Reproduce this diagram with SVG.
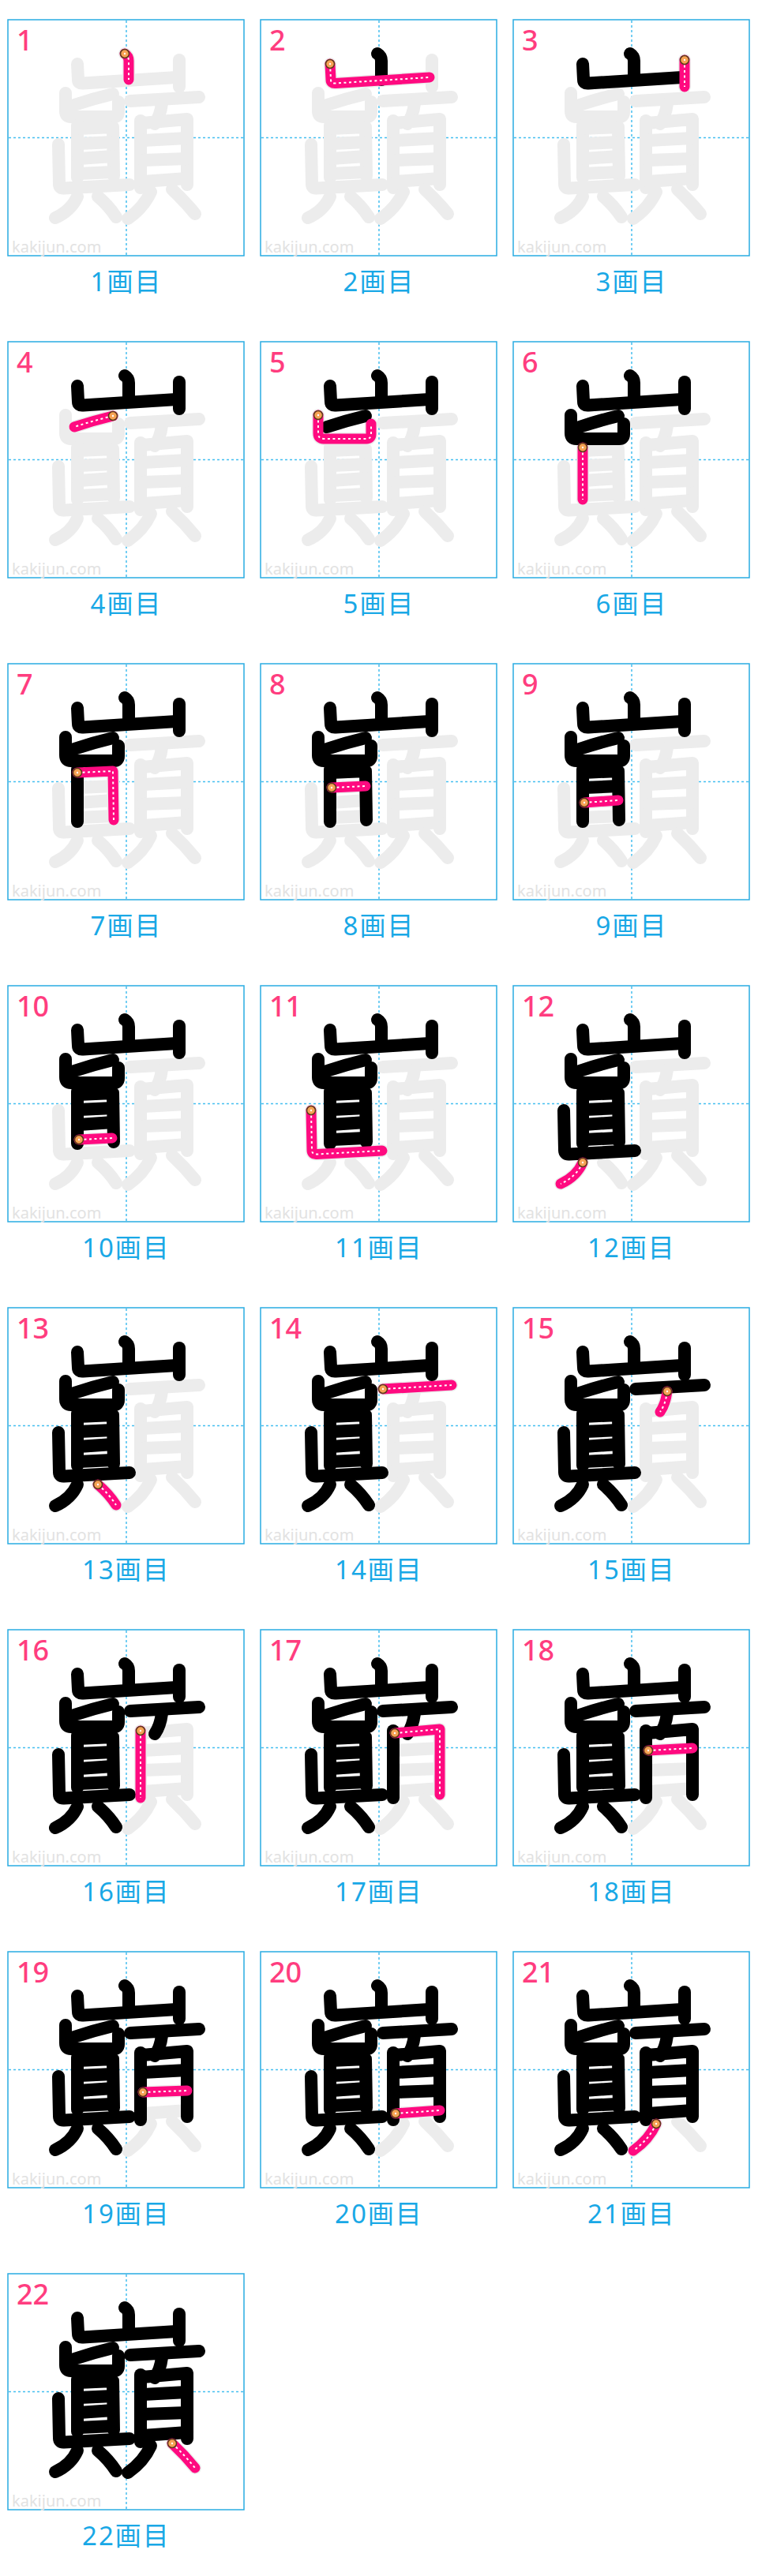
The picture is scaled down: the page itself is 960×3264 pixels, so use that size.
<svg xmlns="http://www.w3.org/2000/svg" xmlns:xlink="http://www.w3.org/1999/xlink" width="960" height="3264" viewBox="0 0 960 3264">
<style>
.box{fill:#fff;stroke:#2aace2;stroke-width:1.5}
.cl{stroke:#45bff0;stroke-width:1.5;stroke-dasharray:3 3}
.wm{font-family:"Noto Sans","Liberation Sans",sans-serif;font-size:20px;fill:#e2e2e2}
.num{font-family:"Noto Sans","Liberation Sans",sans-serif;font-size:36px;font-weight:500;fill:#ff3d7f}
.cap{font-family:"Noto Sans","Noto Sans CJK JP",sans-serif;font-size:33px;letter-spacing:2px;fill:#19a8e6;text-anchor:middle}
.g{fill:none;stroke:#ececec;stroke-width:16;stroke-linecap:round;stroke-linejoin:round}
.k{fill:none;stroke:#000;stroke-width:16;stroke-linecap:round;stroke-linejoin:round}
.p{fill:none;stroke:#ff0a80;stroke-width:13;stroke-linecap:round;stroke-linejoin:round}
.d{fill:none;stroke:#fff;stroke-width:2;stroke-dasharray:3 3.5;stroke-linejoin:round}
.dot{fill:#f7a254;stroke:#5b3b1b;stroke-width:1.5}
.dw{fill:#fff}
</style>
<defs>
<g id="full">
<path id="s1" d="M148,43 Q153,46 153,52 L153,76"/>
<path id="s2" d="M88,56 L89,76 Q89,81 95,80.5 L214,73"/>
<path id="s3" d="M217,51 L217,85"/>
<path id="s4" d="M133,94 Q108,100 84,108"/>
<path id="s5" d="M73,93 L73,116 Q73,123 80,123 L134,123 Q140,123 140,117 L140,104"/>
<path id="s6" d="M88,134 L88,200"/>
<path id="s7" d="M88,138 L133,136 L134,198"/>
<path id="s8" d="M90,157 L133,155"/>
<path id="s9" d="M90,176 L133,173"/>
<path id="s10" d="M90,195 L132,193"/>
<path id="s11" d="M64,158 L65,208 Q65,214 71,213.5 L154,209"/>
<path id="s12" d="M88,224 Q80,242 60,251"/>
<path id="s13" d="M114,224 Q128,236 137,250"/>
<path id="s14" d="M155,103 L242,98"/>
<path id="s15" d="M195,106 Q193,122 186,132"/>
<path id="s16" d="M168,128 L168,213"/>
<path id="s17" d="M170,131 L227,126 L227,209"/>
<path id="s18" d="M171,153 L227,150"/>
<path id="s19" d="M171,178 L227,176"/>
<path id="s20" d="M171,205 L227,201"/>
<path id="s21" d="M181,218 Q172,238 152,252"/>
<path id="s22" d="M208,215 Q224,230 237,246"/>
</g>
<g id="b1"><use href="#s1"/></g>
<g id="b2"><use href="#b1"/><use href="#s2"/></g>
<g id="b3"><use href="#b2"/><use href="#s3"/></g>
<g id="b4"><use href="#b3"/><use href="#s4"/></g>
<g id="b5"><use href="#b4"/><use href="#s5"/></g>
<g id="b6"><use href="#b5"/><use href="#s6"/></g>
<g id="b7"><use href="#b6"/><use href="#s7"/></g>
<g id="b8"><use href="#b7"/><use href="#s8"/></g>
<g id="b9"><use href="#b8"/><use href="#s9"/></g>
<g id="b10"><use href="#b9"/><use href="#s10"/></g>
<g id="b11"><use href="#b10"/><use href="#s11"/></g>
<g id="b12"><use href="#b11"/><use href="#s12"/></g>
<g id="b13"><use href="#b12"/><use href="#s13"/></g>
<g id="b14"><use href="#b13"/><use href="#s14"/></g>
<g id="b15"><use href="#b14"/><use href="#s15"/></g>
<g id="b16"><use href="#b15"/><use href="#s16"/></g>
<g id="b17"><use href="#b16"/><use href="#s17"/></g>
<g id="b18"><use href="#b17"/><use href="#s18"/></g>
<g id="b19"><use href="#b18"/><use href="#s19"/></g>
<g id="b20"><use href="#b19"/><use href="#s20"/></g>
<g id="b21"><use href="#b20"/><use href="#s21"/></g>
<g id="base">
<rect class="box" x="0" y="0" width="299" height="299"/>
<line class="cl" x1="150" y1="1" x2="150" y2="298"/>
<line class="cl" x1="1" y1="149.5" x2="298" y2="149.5"/>
<text class="wm" x="5" y="295">kakijun.com</text>
<use href="#full" class="g"/>
</g>
</defs>

<g id="cell-1" transform="translate(10,25)"><use href="#base"/><text class="num" x="11" y="39">1</text>
<use href="#s1" class="p"/><use href="#s1" class="d"/><circle class="dot" cx="148" cy="43" r="5.5"/><circle class="dw" cx="148" cy="43" r="1.2"/>
<text class="cap" x="150" y="344">1画目</text></g>

<g id="cell-2" transform="translate(330,25)"><use href="#base"/><text class="num" x="11" y="39">2</text>
<use href="#b1" class="k"/>
<use href="#s2" class="p"/><use href="#s2" class="d"/><circle class="dot" cx="88" cy="56" r="5.5"/><circle class="dw" cx="88" cy="56" r="1.2"/>
<text class="cap" x="150" y="344">2画目</text></g>

<g id="cell-3" transform="translate(650,25)"><use href="#base"/><text class="num" x="11" y="39">3</text>
<use href="#b2" class="k"/>
<use href="#s3" class="p"/><use href="#s3" class="d"/><circle class="dot" cx="217" cy="51" r="5.5"/><circle class="dw" cx="217" cy="51" r="1.2"/>
<text class="cap" x="150" y="344">3画目</text></g>

<g id="cell-4" transform="translate(10,433)"><use href="#base"/><text class="num" x="11" y="39">4</text>
<use href="#b3" class="k"/>
<use href="#s4" class="p"/><use href="#s4" class="d"/><circle class="dot" cx="133" cy="94" r="5.5"/><circle class="dw" cx="133" cy="94" r="1.2"/>
<text class="cap" x="150" y="344">4画目</text></g>

<g id="cell-5" transform="translate(330,433)"><use href="#base"/><text class="num" x="11" y="39">5</text>
<use href="#b4" class="k"/>
<use href="#s5" class="p"/><use href="#s5" class="d"/><circle class="dot" cx="73" cy="93" r="5.5"/><circle class="dw" cx="73" cy="93" r="1.2"/>
<text class="cap" x="150" y="344">5画目</text></g>

<g id="cell-6" transform="translate(650,433)"><use href="#base"/><text class="num" x="11" y="39">6</text>
<use href="#b5" class="k"/>
<use href="#s6" class="p"/><use href="#s6" class="d"/><circle class="dot" cx="88" cy="134" r="5.5"/><circle class="dw" cx="88" cy="134" r="1.2"/>
<text class="cap" x="150" y="344">6画目</text></g>

<g id="cell-7" transform="translate(10,841)"><use href="#base"/><text class="num" x="11" y="39">7</text>
<use href="#b6" class="k"/>
<use href="#s7" class="p"/><use href="#s7" class="d"/><circle class="dot" cx="88" cy="138" r="5.5"/><circle class="dw" cx="88" cy="138" r="1.2"/>
<text class="cap" x="150" y="344">7画目</text></g>

<g id="cell-8" transform="translate(330,841)"><use href="#base"/><text class="num" x="11" y="39">8</text>
<use href="#b7" class="k"/>
<use href="#s8" class="p"/><use href="#s8" class="d"/><circle class="dot" cx="90" cy="157" r="5.5"/><circle class="dw" cx="90" cy="157" r="1.2"/>
<text class="cap" x="150" y="344">8画目</text></g>

<g id="cell-9" transform="translate(650,841)"><use href="#base"/><text class="num" x="11" y="39">9</text>
<use href="#b8" class="k"/>
<use href="#s9" class="p"/><use href="#s9" class="d"/><circle class="dot" cx="90" cy="176" r="5.5"/><circle class="dw" cx="90" cy="176" r="1.2"/>
<text class="cap" x="150" y="344">9画目</text></g>

<g id="cell-10" transform="translate(10,1249)"><use href="#base"/><text class="num" x="11" y="39">10</text>
<use href="#b9" class="k"/>
<use href="#s10" class="p"/><use href="#s10" class="d"/><circle class="dot" cx="90" cy="195" r="5.5"/><circle class="dw" cx="90" cy="195" r="1.2"/>
<text class="cap" x="150" y="344">10画目</text></g>

<g id="cell-11" transform="translate(330,1249)"><use href="#base"/><text class="num" x="11" y="39">11</text>
<use href="#b10" class="k"/>
<use href="#s11" class="p"/><use href="#s11" class="d"/><circle class="dot" cx="64" cy="158" r="5.5"/><circle class="dw" cx="64" cy="158" r="1.2"/>
<text class="cap" x="150" y="344">11画目</text></g>

<g id="cell-12" transform="translate(650,1249)"><use href="#base"/><text class="num" x="11" y="39">12</text>
<use href="#b11" class="k"/>
<use href="#s12" class="p"/><use href="#s12" class="d"/><circle class="dot" cx="88" cy="224" r="5.5"/><circle class="dw" cx="88" cy="224" r="1.2"/>
<text class="cap" x="150" y="344">12画目</text></g>

<g id="cell-13" transform="translate(10,1657)"><use href="#base"/><text class="num" x="11" y="39">13</text>
<use href="#b12" class="k"/>
<use href="#s13" class="p"/><use href="#s13" class="d"/><circle class="dot" cx="114" cy="224" r="5.5"/><circle class="dw" cx="114" cy="224" r="1.2"/>
<text class="cap" x="150" y="344">13画目</text></g>

<g id="cell-14" transform="translate(330,1657)"><use href="#base"/><text class="num" x="11" y="39">14</text>
<use href="#b13" class="k"/>
<use href="#s14" class="p"/><use href="#s14" class="d"/><circle class="dot" cx="155" cy="103" r="5.5"/><circle class="dw" cx="155" cy="103" r="1.2"/>
<text class="cap" x="150" y="344">14画目</text></g>

<g id="cell-15" transform="translate(650,1657)"><use href="#base"/><text class="num" x="11" y="39">15</text>
<use href="#b14" class="k"/>
<use href="#s15" class="p"/><use href="#s15" class="d"/><circle class="dot" cx="195" cy="106" r="5.5"/><circle class="dw" cx="195" cy="106" r="1.2"/>
<text class="cap" x="150" y="344">15画目</text></g>

<g id="cell-16" transform="translate(10,2065)"><use href="#base"/><text class="num" x="11" y="39">16</text>
<use href="#b15" class="k"/>
<use href="#s16" class="p"/><use href="#s16" class="d"/><circle class="dot" cx="168" cy="128" r="5.5"/><circle class="dw" cx="168" cy="128" r="1.2"/>
<text class="cap" x="150" y="344">16画目</text></g>

<g id="cell-17" transform="translate(330,2065)"><use href="#base"/><text class="num" x="11" y="39">17</text>
<use href="#b16" class="k"/>
<use href="#s17" class="p"/><use href="#s17" class="d"/><circle class="dot" cx="170" cy="131" r="5.5"/><circle class="dw" cx="170" cy="131" r="1.2"/>
<text class="cap" x="150" y="344">17画目</text></g>

<g id="cell-18" transform="translate(650,2065)"><use href="#base"/><text class="num" x="11" y="39">18</text>
<use href="#b17" class="k"/>
<use href="#s18" class="p"/><use href="#s18" class="d"/><circle class="dot" cx="171" cy="153" r="5.5"/><circle class="dw" cx="171" cy="153" r="1.2"/>
<text class="cap" x="150" y="344">18画目</text></g>

<g id="cell-19" transform="translate(10,2473)"><use href="#base"/><text class="num" x="11" y="39">19</text>
<use href="#b18" class="k"/>
<use href="#s19" class="p"/><use href="#s19" class="d"/><circle class="dot" cx="171" cy="178" r="5.5"/><circle class="dw" cx="171" cy="178" r="1.2"/>
<text class="cap" x="150" y="344">19画目</text></g>

<g id="cell-20" transform="translate(330,2473)"><use href="#base"/><text class="num" x="11" y="39">20</text>
<use href="#b19" class="k"/>
<use href="#s20" class="p"/><use href="#s20" class="d"/><circle class="dot" cx="171" cy="205" r="5.5"/><circle class="dw" cx="171" cy="205" r="1.2"/>
<text class="cap" x="150" y="344">20画目</text></g>

<g id="cell-21" transform="translate(650,2473)"><use href="#base"/><text class="num" x="11" y="39">21</text>
<use href="#b20" class="k"/>
<use href="#s21" class="p"/><use href="#s21" class="d"/><circle class="dot" cx="181" cy="218" r="5.5"/><circle class="dw" cx="181" cy="218" r="1.2"/>
<text class="cap" x="150" y="344">21画目</text></g>

<g id="cell-22" transform="translate(10,2881)"><use href="#base"/><text class="num" x="11" y="39">22</text>
<use href="#b21" class="k"/>
<use href="#s22" class="p"/><use href="#s22" class="d"/><circle class="dot" cx="208" cy="215" r="5.5"/><circle class="dw" cx="208" cy="215" r="1.2"/>
<text class="cap" x="150" y="344">22画目</text></g>
</svg>
